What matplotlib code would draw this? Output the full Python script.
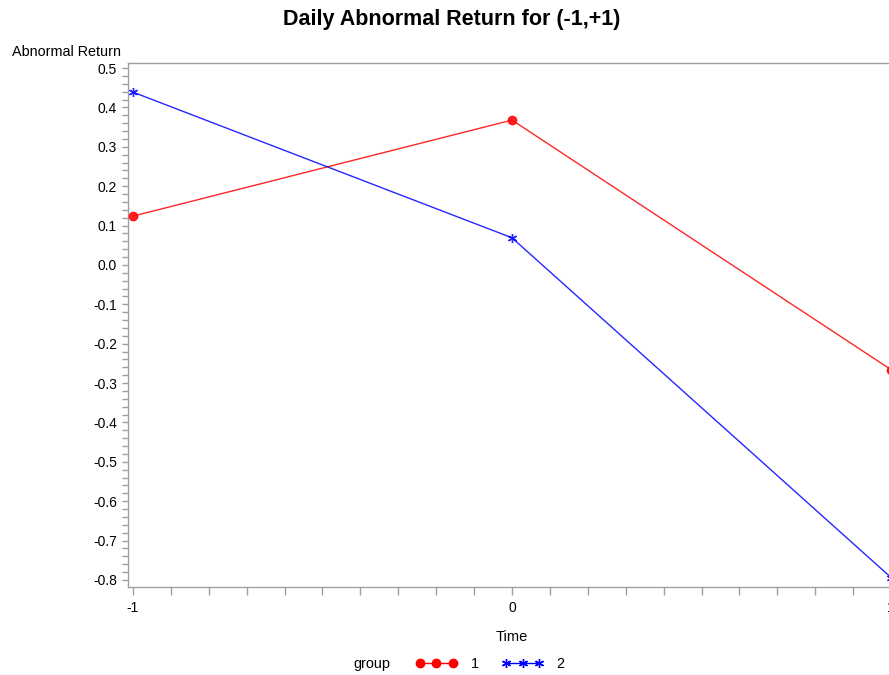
import matplotlib
matplotlib.use("Agg")
import matplotlib.pyplot as plt
from matplotlib.ticker import MultipleLocator, FixedLocator, FixedFormatter
from matplotlib.lines import Line2D

plt.rcParams['font.family'] = ['Liberation Sans', 'DejaVu Sans']

# Event window and mean abnormal returns by group
time = [-1, 0, 1]
group1 = [0.124, 0.368, -0.266]
group2 = [0.439, 0.069, -0.794]
group_labels = ["1", "2"]
ytick_values = [0.5, 0.4, 0.3, 0.2, 0.1, 0.0, -0.1, -0.2, -0.3, -0.4,
                -0.5, -0.6, -0.7, -0.8]
xtick_values = [-1, 0, 1]

W, H = 889, 675
fig = plt.figure(figsize=(W / 100, H / 100), dpi=100)

# plot area (right edge runs past the figure boundary)
left, right, top, bottom = 128, 896, 63, 587
ax = fig.add_axes([left / W, 1 - bottom / H, (right - left) / W, (bottom - top) / H])

red = "#ff0000"
blue = "#0000ff"
ax.plot(time, group1, color=red, lw=1.0, marker="o", ms=6, mec=red, mfc=red, alpha=0.85,
        clip_on=False, zorder=3)
ax.plot(time, group2, color=blue, lw=1.0, marker=(6, 2, 0), ms=6.5, mew=1.0,
        mec=blue, alpha=0.85, clip_on=False, zorder=3)

ax.set_xlim(-1.013, 1.013)
ax.set_ylim(-0.818, 0.513)

spine_col = "#a0a0a0"
for s in ["top", "left", "bottom"]:
    ax.spines[s].set_color(spine_col)
    ax.spines[s].set_linewidth(1.0)
ax.spines["right"].set_visible(False)

ax.yaxis.set_major_locator(FixedLocator(ytick_values))
ax.yaxis.set_major_formatter(FixedFormatter([f"{v:.1f}" for v in ytick_values]))
ax.yaxis.set_minor_locator(MultipleLocator(0.02))
ax.xaxis.set_major_locator(FixedLocator(xtick_values))
ax.xaxis.set_major_formatter(FixedFormatter([str(v) for v in xtick_values]))
ax.xaxis.set_minor_locator(MultipleLocator(0.1))

ax.tick_params(axis="y", which="both", length=4, width=1, color=spine_col)
ax.tick_params(axis="x", which="both", length=6, width=1, color=spine_col)
ax.tick_params(axis="both", which="major", labelsize=10, labelcolor="black", pad=4)

ax.set_xlabel("Time", fontsize=10.5, labelpad=11)

fig.text(12 / W, 1 - 52 / H, "Abnormal Return", fontsize=10.4, ha="left", va="center")
fig.text(452 / W, 1 - 19 / H, "Daily Abnormal Return for (-1,+1)", fontsize=15.5,
         fontweight="bold", ha="center", va="center")

# legend
fig.text(372 / W, 1 - 664 / H, "group", fontsize=10.4, ha="center", va="center")
handles = [
    Line2D([], [], color=red, lw=1.0, marker="o", ms=6, mfc=red, mec=red),
    Line2D([], [], color=blue, lw=1.0, marker=(6, 2, 0), ms=6.5, mec=blue),
]
fig.legend(handles, group_labels, loc="center", bbox_to_anchor=(490 / W, 1 - 664 / H),
           ncol=2, frameon=False, numpoints=3, handlelength=2.9, handletextpad=0.9,
           columnspacing=1.6, fontsize=10.4)

fig.savefig("out.png", dpi=100)
